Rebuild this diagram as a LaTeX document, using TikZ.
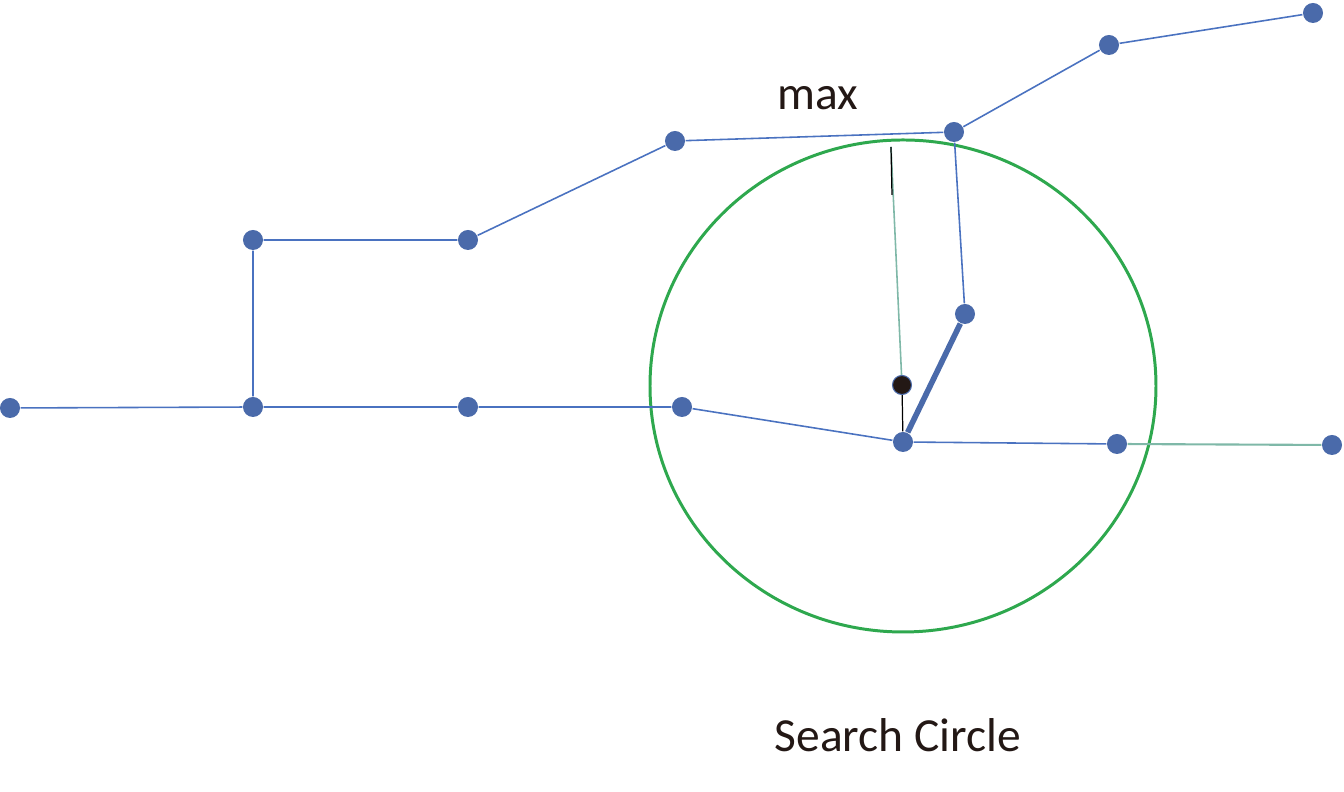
\documentclass[tikz,border=0pt]{standalone}
\usepackage{fontspec}
\setmainfont{Carlito}
\definecolor{nodeblue}{HTML}{4A6AAA}
\definecolor{edgeblue}{HTML}{4A72C0}
\definecolor{circgreen}{HTML}{2EA84E}
\definecolor{tealline}{HTML}{7FB8A8}
\definecolor{inkdark}{HTML}{231815}
\tikzset{
  pt/.style={circle, fill=nodeblue, inner sep=0pt, minimum size=0.2cm},
  query/.style={circle, fill=inkdark, draw=nodeblue, line width=0.3pt, inner sep=0pt, minimum size=0.19cm},
  road/.style={edgeblue, line width=0.45pt},
  label/.style={text=inkdark, font=\fontsize{13.5}{16}\selectfont}
}
\begin{document}
\begin{tikzpicture}[x=0.01cm, y=-0.01cm]
    \useasboundingbox (0,0) rectangle (1344,792);

    % search circle
    \draw[circgreen, line width=0.85pt] (903,386) ellipse [x radius=253, y radius=246];

    % points of the roads
    \node[pt] (a) at (10,408) {};
    \node[pt] (b) at (253,407) {};
    \node[pt] (c) at (468,407) {};
    \node[pt] (d) at (682,407) {};
    \node[pt] (e) at (903,442) {};
    \node[pt] (f) at (1117,444) {};
    \node[pt] (g) at (1332,445) {};
    \node[pt] (h) at (253,240) {};
    \node[pt] (i) at (468,240) {};
    \node[pt] (j) at (675,141) {};
    \node[pt] (k) at (954,132) {};
    \node[pt] (l) at (1109,45) {};
    \node[pt] (m) at (1313,13) {};
    \node[pt] (n) at (965,314) {};

    \draw[road] (a) -- (b) -- (c) -- (d) -- (e) -- (f);
    \draw[tealline, line width=0.6pt] (f) -- (g);
    \draw[road] (b) -- (h) -- (i) -- (j) -- (k) -- (l) -- (m);
    \draw[road] (k) -- (n);
    \draw[nodeblue, line width=1.6pt] (e) -- (n);

    % query point and max distance
    \coordinate (top) at (891,147);
    \coordinate (topend) at (892,195);
    \node[query] (x) at (902,385) {};
    \draw[tealline, line width=0.45pt] (top) -- (x);
    \draw[black, line width=0.35pt] (top) -- (topend);
    \draw[black, line width=0.35pt] (x) -- (e);

    \node[label] (maxlbl) at (818,98) {max};
    \node[label] (circlbl) at (898,735) {Search Circle};
\end{tikzpicture}
\end{document}
